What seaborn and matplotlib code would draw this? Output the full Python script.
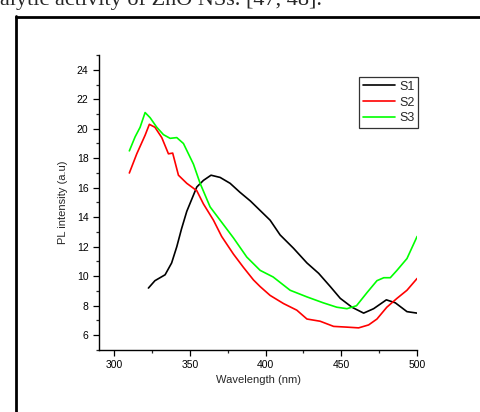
import numpy as np
import pandas as pd
import matplotlib
matplotlib.use("Agg")
import matplotlib.pyplot as plt
import seaborn as sns
from matplotlib.ticker import MultipleLocator
from matplotlib.lines import Line2D

# Data
s1_wl = [322.7, 327, 333.7, 338, 341.4, 344.5, 348, 354.6, 359, 364, 370, 376.6, 383, 390, 397, 403,
         409.6, 418.4, 427.3, 435, 442.7, 449.3, 457, 464.7, 471.3, 479.7, 485.6, 493.3, 500]
s1_pl = [9.2, 9.7, 10.1, 10.9, 12.0, 13.2, 14.4, 16.05, 16.5, 16.85, 16.7, 16.3, 15.7, 15.1, 14.4, 13.8,
         12.8, 11.9, 10.9, 10.2, 9.3, 8.5, 7.9, 7.5, 7.8, 8.4, 8.2, 7.6, 7.5]

s2_wl = [310.1, 315, 320.5, 323.3, 327, 331.5, 335.9, 338.7, 342.5, 348, 354.6, 359, 365.6, 371, 378.8,
         385.4, 392, 396.4, 403, 411.8, 420.6, 427.3, 436, 444.9, 453.7, 461.4, 468, 473.5, 480, 486.7,
         493.3, 500]
s2_pl = [17.0, 18.3, 19.56, 20.3, 20.1, 19.4, 18.3, 18.35, 16.85, 16.3, 15.8, 14.9, 13.8, 12.7, 11.5,
         10.6, 9.75, 9.3, 8.7, 8.15, 7.7, 7.1, 6.95, 6.6, 6.55, 6.5, 6.7, 7.1, 7.9, 8.5,
         9.05, 9.85]

s3_wl = [310.1, 313.9, 317.2, 320.5, 323.8, 328.2, 332.6, 337, 341.4, 345.8, 352.4, 356.8, 363.4, 370,
         378.8, 387.6, 396.4, 405, 416.2, 427.3, 438, 447, 453.7, 460, 467, 473.5, 478, 482.3, 486.7,
         493.3, 500]
s3_pl = [18.5, 19.45, 20.1, 21.1, 20.75, 20.1, 19.6, 19.35, 19.4, 19.0, 17.6, 16.3, 14.7, 13.8,
         12.6, 11.3, 10.4, 9.95, 9.05, 8.6, 8.2, 7.9, 7.8, 8.0, 8.9, 9.7, 9.9, 9.9, 10.4,
         11.2, 12.7]

series = ["S1", "S2", "S3"]
colors = ["#000000", "#ff0000", "#00ff00"]

df = pd.concat([
    pd.DataFrame({"wl": s1_wl, "pl": s1_pl, "s": "S1"}),
    pd.DataFrame({"wl": s2_wl, "pl": s2_pl, "s": "S2"}),
    pd.DataFrame({"wl": s3_wl, "pl": s3_pl, "s": "S3"}),
])

sns.set_style("ticks")
plt.rcParams["font.family"] = ["Liberation Sans", "DejaVu Sans"]

fig = plt.figure(figsize=(4.8, 4.12), dpi=100)
ax = fig.add_axes([0.206, 0.1505, 0.663, 0.716])

sns.lineplot(data=df, x="wl", y="pl", hue="s", palette=dict(zip(series, colors)),
             ax=ax, linewidth=1.2, legend=False, sort=False, estimator=None)

ax.set_xlim(290, 500)
ax.set_ylim(5, 25)
ax.xaxis.set_major_locator(MultipleLocator(50))
ax.xaxis.set_minor_locator(MultipleLocator(25))
ax.yaxis.set_major_locator(MultipleLocator(2))
ax.yaxis.set_minor_locator(MultipleLocator(1))
ax.tick_params(which="major", length=4, width=0.9, labelsize=7.5, direction="out", colors="black")
ax.tick_params(which="minor", length=2.5, width=0.9, direction="out")
for sp in ["top", "right"]:
    ax.spines[sp].set_visible(False)
for sp in ["left", "bottom"]:
    ax.spines[sp].set_linewidth(1.0)
    ax.spines[sp].set_color("black")
ax.set_xlabel("Wavelength (nm)", fontsize=8, labelpad=3)
ax.set_ylabel("PL intensity (a.u)", fontsize=8, labelpad=6)

handles = [Line2D([0], [0], color=c, lw=1.2) for c in colors]
leg = fig.legend(handles, series, loc="upper left", bbox_to_anchor=(0.748, 0.813),
                 fontsize=9, frameon=True, fancybox=False, handlelength=2.6,
                 handletextpad=0.3, borderpad=0.3, labelspacing=0.3, borderaxespad=0)
leg.get_frame().set_edgecolor("black")
leg.get_frame().set_linewidth(0.9)

# document frame and cut-off caption text
fig.add_artist(Line2D([15.5 / 480, 15.5 / 480], [0, 1 - 16 / 412], transform=fig.transFigure,
                      color="black", lw=2))
fig.add_artist(Line2D([15.5 / 480, 1], [1 - 17 / 412, 1 - 17 / 412], transform=fig.transFigure,
                      color="black", lw=2))
fig.text(0 / 480, 1 - 4.5 / 412, "alytic activity of ZnO NSs. [47, 48].", family="Liberation Serif",
         fontsize=16, va="baseline", ha="left")

fig.savefig("out.png", dpi=100)
